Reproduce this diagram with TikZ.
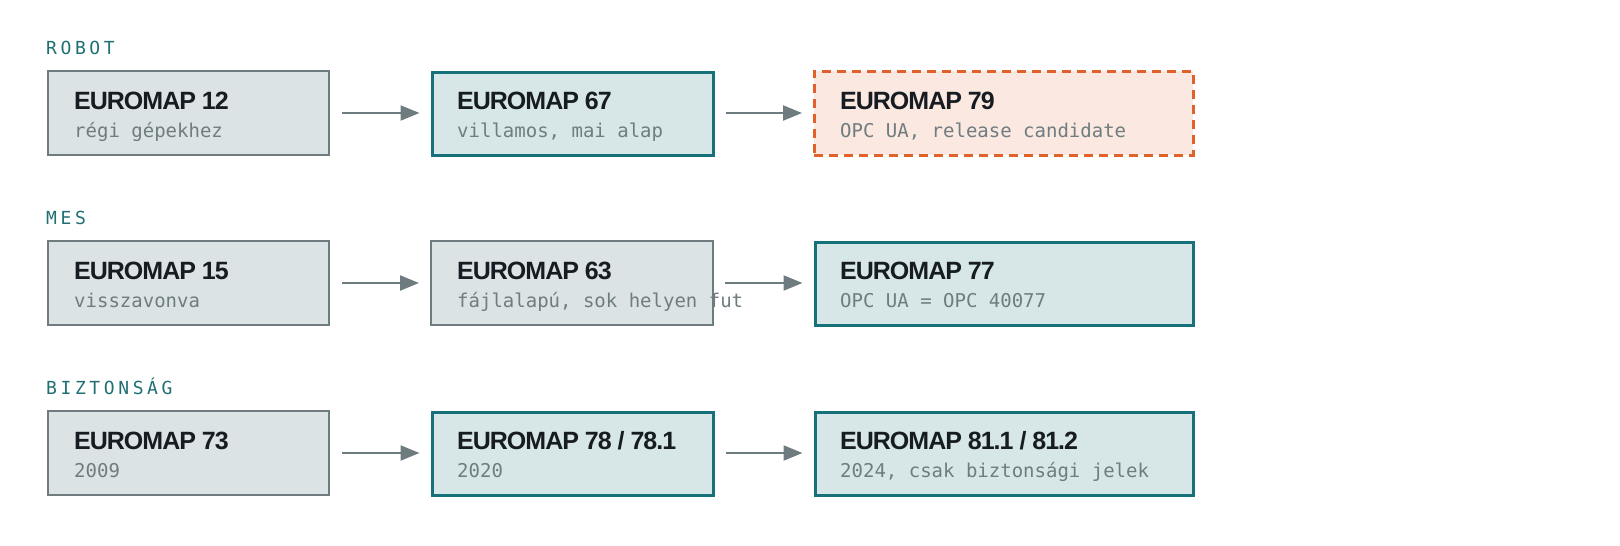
\documentclass[tikz,border=0pt]{standalone}
\usepackage{fontspec}
\setmainfont{Liberation Sans}
\newfontfamily\titlefont{Liberation Sans}[LetterSpace=-4]
\newfontfamily\subfont{DejaVu Sans Mono}
\newfontfamily\rowfont{DejaVu Sans Mono}[LetterSpace=20]
\usetikzlibrary{arrows.meta}
\definecolor{tealc}{HTML}{17717A}
\definecolor{tealfill}{HTML}{D7E7E8}
\definecolor{greyc}{HTML}{6E7C80}
\definecolor{greyfill}{HTML}{DCE3E4}
\definecolor{orangec}{HTML}{E0622A}
\definecolor{orangefill}{HTML}{FBE9E1}
\definecolor{inkc}{HTML}{161C22}
\definecolor{subc}{HTML}{6F7C80}
\definecolor{labc}{HTML}{1F6F73}
\tikzset{
  basebox/.style={rectangle, inner sep=0pt, anchor=north west, minimum height=84pt},
  greybox/.style={basebox, draw=greyc, fill=greyfill, line width=2pt},
  tealbox/.style={basebox, draw=tealc, fill=tealfill, line width=3pt, minimum height=83pt},
  rcbox/.style={basebox, draw=orangec, fill=orangefill, line width=2.5pt, dash pattern=on 9pt off 6pt},
  titletxt/.style={inner sep=0pt, anchor=base west, text=inkc, font=\titlefont\bfseries\fontsize{25}{30}\selectfont},
  subtxt/.style={inner sep=0pt, anchor=base west, text=subc, font=\subfont\fontsize{19}{22}\selectfont},
  rowlab/.style={inner sep=0pt, anchor=base west, text=labc, font=\rowfont\fontsize{18}{22}\selectfont},
  arr/.style={draw=greyc, line width=2.2pt, -{Triangle[length=19pt,width=15pt]}},
}
\begin{document}
\begin{tikzpicture}[x=1pt,y=-1pt]
\useasboundingbox (0,0) rectangle (1620,546);
% row labels
\node[rowlab] (l1) at (46,54) {ROBOT};
\node[rowlab] (l2) at (46,224) {MES};
\node[rowlab] (l3) at (46,394) {BIZTONSÁG};
% row 1
\node[greybox, minimum width=281pt] (r1a) at (47,70) {};
\node[tealbox, minimum width=281pt] (r1b) at (430.5,70.5) {};
\node[rcbox, minimum width=379pt] (r1c) at (813,70) {};
% row 2
\node[greybox, minimum width=281pt] (r2a) at (47,240) {};
\node[greybox, minimum width=282pt] (r2b) at (430,240) {};
\node[tealbox, minimum width=378pt] (r2c) at (813.5,240.5) {};
% row 3
\node[greybox, minimum width=281pt] (r3a) at (47,410) {};
\node[tealbox, minimum width=281pt] (r3b) at (430.5,410.5) {};
\node[tealbox, minimum width=378pt] (r3c) at (813.5,410.5) {};
% texts
\node[titletxt] (t1a) at (74,109) {EUROMAP 12};
\node[subtxt] (s1a) at (74,137) {régi gépekhez};
\node[titletxt] (t1b) at (457,109) {EUROMAP 67};
\node[subtxt] (s1b) at (457,137) {villamos, mai alap};
\node[titletxt] (t1c) at (840,109) {EUROMAP 79};
\node[subtxt] (s1c) at (840,137) {OPC UA, release candidate};
\node[titletxt] (t2a) at (74,279) {EUROMAP 15};
\node[subtxt] (s2a) at (74,307) {visszavonva};
\node[titletxt] (t2b) at (457,279) {EUROMAP 63};
\node[subtxt] (s2b) at (457,307) {fájlalapú, sok helyen fut};
\node[titletxt] (t2c) at (840,279) {EUROMAP 77};
\node[subtxt] (s2c) at (840,307) {OPC UA = OPC 40077};
\node[titletxt] (t3a) at (74,449) {EUROMAP 73};
\node[subtxt] (s3a) at (74,477) {2009};
\node[titletxt] (t3b) at (457,449) {EUROMAP 78 / 78.1};
\node[subtxt] (s3b) at (457,477) {2020};
\node[titletxt] (t3c) at (840,449) {EUROMAP 81.1 / 81.2};
\node[subtxt] (s3c) at (840,477) {2024, csak biztonsági jelek};
% arrows
\draw[arr] ([xshift=12pt]r1a.east) -- ([xshift=-11pt]r1b.west |- r1a.east);
\draw[arr] ([xshift=11pt]r1b.east |- r1a.east) -- ([xshift=-11pt]r1c.west |- r1a.east);
\draw[arr] ([xshift=12pt]r2a.east) -- ([xshift=-11pt]r2b.west |- r2a.east);
\draw[arr] ([xshift=11pt]r2b.east |- r2a.east) -- ([xshift=-11pt]r2c.west |- r2a.east);
\draw[arr] ([xshift=12pt]r3a.east) -- ([xshift=-11pt]r3b.west |- r3a.east);
\draw[arr] ([xshift=11pt]r3b.east |- r3a.east) -- ([xshift=-11pt]r3c.west |- r3a.east);
\end{tikzpicture}
\end{document}
